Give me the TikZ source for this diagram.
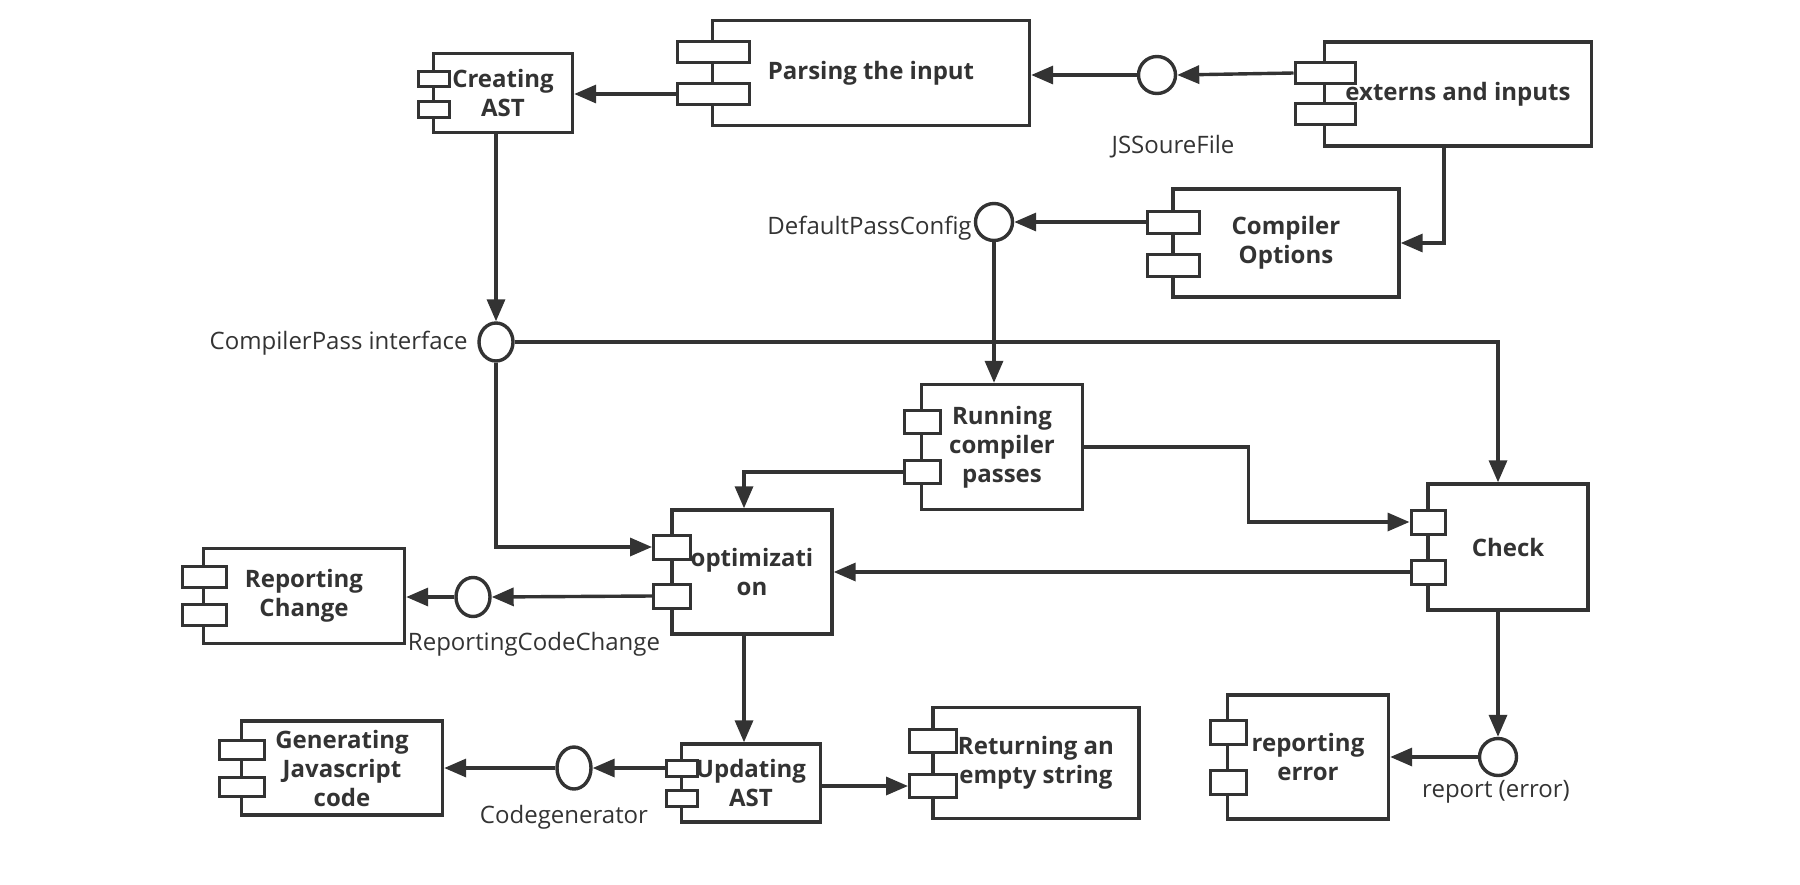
\documentclass[tikz,border=0pt]{standalone}
\usepackage{fontspec}
\setmainfont{Open Sans}
\usetikzlibrary{arrows.meta,shapes.geometric}
\definecolor{ink}{HTML}{333333}

\begin{document}
\begin{tikzpicture}[x=0.5pt, y=-0.5pt,
    comp/.style={draw=ink, fill=white, line width=1.7pt, inner sep=0pt,
      align=center, text=ink, font=\bfseries\fontsize{12}{14.5}\selectfont},
    port/.style={draw=ink, fill=white, line width=1.5pt, inner sep=0pt},
    iface/.style={draw=ink, fill=white, line width=1.7pt, ellipse, inner sep=0pt},
    lbl/.style={text=ink, inner sep=0pt, font=\fontsize{12}{14}\selectfont},
    arr/.style={draw=ink, line width=1.7pt, -{Triangle[length=11pt,width=9pt]}}]
    \useasboundingbox (0,0) rectangle (1800,884);

    % components
    \node[comp, minimum width=69.5pt, minimum height=39.5pt] (create) at (503,93) {Creating\\AST};
    \node[port, minimum width=15.5pt, minimum height=7.5pt] (create1) at (434,79) {};
    \node[port, minimum width=15.5pt, minimum height=8pt] (create2) at (434,109) {};

    \node[comp, minimum width=158.5pt, minimum height=52.5pt] (parse) at (871,73) {Parsing the input};
    \node[port, minimum width=36pt, minimum height=10.5pt] (parse1) at (713,52) {};
    \node[port, minimum width=36pt, minimum height=10.5pt] (parse2) at (713,94) {};

    \node[comp, minimum width=133.5pt, minimum height=52pt] (ext) at (1458,94) {externs and inputs};
    \node[port, minimum width=30pt, minimum height=10.5pt] (ext1) at (1325,73) {};
    \node[port, minimum width=30pt, minimum height=10.5pt] (ext2) at (1325,114) {};

    \node[comp, minimum width=113pt, minimum height=54pt] (opts) at (1286,243) {Compiler\\Options};
    \node[port, minimum width=26pt, minimum height=11pt] (opts1) at (1173,222) {};
    \node[port, minimum width=26pt, minimum height=11pt] (opts2) at (1173,265) {};

    \node[comp, minimum width=80.5pt, minimum height=62.5pt] (run) at (1002,447) {Running\\compiler\\passes};
    \node[port, minimum width=18pt, minimum height=11.5pt] (run1) at (922,422) {};
    \node[port, minimum width=18pt, minimum height=11.5pt] (run2) at (922,472) {};

    \node[comp, minimum width=80pt, minimum height=63pt] (check) at (1508,547) {Check};
    \node[port, minimum width=17pt, minimum height=12pt] (check1) at (1428,522) {};
    \node[port, minimum width=17pt, minimum height=12pt] (check2) at (1428,572) {};

    \node[comp, minimum width=80pt, minimum height=62pt] (opt) at (752,572) {optimizati\\on};
    \node[port, minimum width=18.5pt, minimum height=12pt] (opt1) at (672,547) {};
    \node[port, minimum width=18.5pt, minimum height=12pt] (opt2) at (672,596) {};

    \node[comp, minimum width=100.5pt, minimum height=47.5pt] (rchange) at (304,596) {Reporting\\Change};
    \node[port, minimum width=22pt, minimum height=10.5pt] (rchange1) at (204,577) {};
    \node[port, minimum width=22pt, minimum height=10.5pt] (rchange2) at (204,615) {};

    \node[comp, minimum width=69.5pt, minimum height=39pt] (update) at (751,783) {Updating\\AST};
    \node[port, minimum width=15.5pt, minimum height=8pt] (update1) at (682,768) {};
    \node[port, minimum width=15.5pt, minimum height=8pt] (update2) at (682,798) {};

    \node[comp, minimum width=100.5pt, minimum height=47pt] (genjs) at (342,768) {Generating\\Javascript\\code};
    \node[port, minimum width=22.5pt, minimum height=9.5pt] (genjs1) at (242,750) {};
    \node[port, minimum width=22.5pt, minimum height=9.5pt] (genjs2) at (242,787) {};

    \node[comp, minimum width=103pt, minimum height=55.5pt] (retstr) at (1036,763) {Returning an\\empty string};
    \node[port, minimum width=23.5pt, minimum height=11.5pt] (retstr1) at (933,741) {};
    \node[port, minimum width=23.5pt, minimum height=11.5pt] (retstr2) at (933,786) {};

    \node[comp, minimum width=80.5pt, minimum height=62pt] (reperr) at (1308,757) {reporting\\error};
    \node[port, minimum width=18pt, minimum height=12pt] (reperr1) at (1228,732) {};
    \node[port, minimum width=18pt, minimum height=12pt] (reperr2) at (1228,782) {};

    % interfaces
    \node[iface, minimum width=18.5pt, minimum height=18.5pt] (jsfile) at (1157,75) {};
    \node[iface, minimum width=18.5pt, minimum height=18.5pt] (passcfg) at (994,222) {};
    \node[iface, minimum width=17pt, minimum height=19pt] (cpass) at (496,342) {};
    \node[iface, minimum width=17pt, minimum height=19.5pt] (rcc) at (473,597) {};
    \node[iface, minimum width=17pt, minimum height=21pt] (codegen) at (574,768) {};
    \node[iface, minimum width=18.5pt, minimum height=18.5pt] (rerr) at (1498,757) {};

    \node[lbl] (jsfile-lbl) at (1173,147) {JSSoureFile};
    \node[lbl, anchor=east] (passcfg-lbl) at (972,228) {DefaultPassConfig};
    \node[lbl, anchor=east] (cpass-lbl) at (468,343) {CompilerPass interface};
    \node[lbl] (rcc-lbl) at (534,644) {ReportingCodeChange};
    \node[lbl] (codegen-lbl) at (564,817) {Codegenerator};
    \node[lbl] (rerr-lbl) at (1496,792) {report (error)};

    % connectors
    \draw[arr] (ext1.west) -- (jsfile.east);
    \draw[arr] (jsfile.west) -- (jsfile.west -| parse.east);
    \draw[arr] (parse2.west) -- (parse2.west -| create.east);
    \draw[arr] ([xshift=-7pt]ext.south) |- (opts.east);
    \draw[arr] (opts1.west) -- (passcfg.east);
    \draw[arr] (passcfg.south) -- (passcfg |- run.north);
    \draw[arr] (cpass |- create.south) -- (cpass.north);
    \draw[arr] (cpass.east) -| (rerr |- check.north);
    \draw[arr] (cpass.south) |- (opt1.west);
    \draw[arr] (run.east) -- ++(164,0) |- (check1.west);
    \draw[arr] (run2.west) -| ([xshift=-4pt]opt.north);
    \draw[arr] (check2.west) -- (check2.west -| opt.east);
    \draw[arr] (opt2.west) -- (rcc.east);
    \draw[arr] (rcc.west) -- (rcc.west -| rchange.east);
    \draw[arr] ([xshift=-4pt]opt.south) -- ([xshift=-4pt]opt.south |- update.north);
    \draw[arr] (update1.west) -- (codegen.east);
    \draw[arr] (codegen.west) -- (codegen.west -| genjs.east);
    \draw[arr] (update.east |- retstr2.west) -- (retstr2.west);
    \draw[arr] (rerr |- check.south) -- (rerr.north);
    \draw[arr] (rerr.west) -- (rerr.west -| reperr.east);
\end{tikzpicture}
\end{document}
